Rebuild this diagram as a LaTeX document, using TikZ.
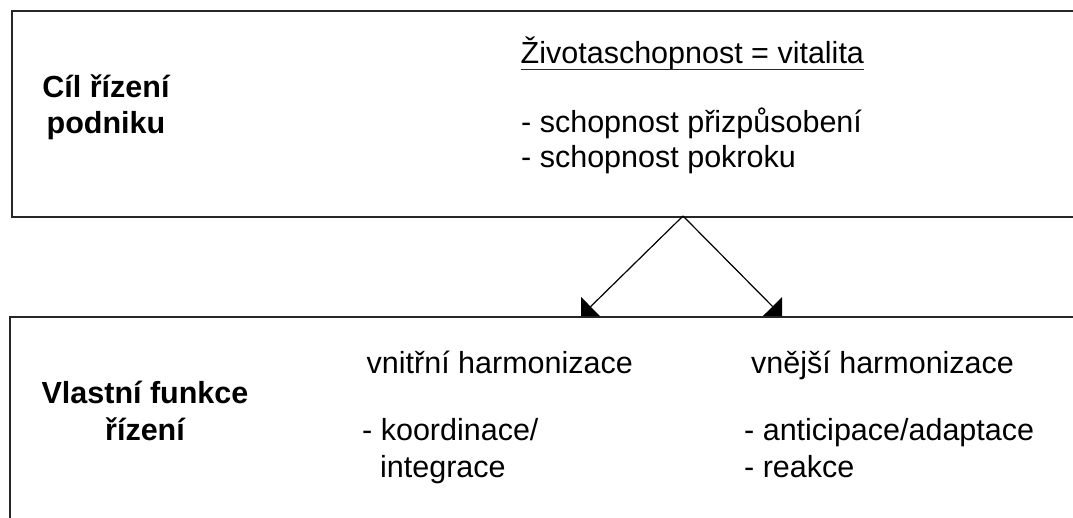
\documentclass[tikz,border=0pt]{standalone}
\usepackage{fontspec}
\setmainfont{Liberation Sans}
\usetikzlibrary{arrows.meta}

\tikzset{
  panel/.style={draw=black!85, line width=2.2pt, fill=white, rectangle,
                anchor=north west, inner sep=0pt},
  txt/.style={inner sep=0pt, anchor=base west, text=black,
              font=\fontsize{30.5}{36}\selectfont},
  head/.style={inner sep=0pt, anchor=base, text=black,
               font=\fontsize{30.5}{36}\selectfont\bfseries},
  link/.style={draw=black, line width=1.2pt,
               -{Triangle[length=13.4pt,width=26.8pt]}},
}

\begin{document}
\begin{tikzpicture}[x=1pt,y=-1pt]
  \useasboundingbox (0,0) rectangle (1073,517);
  \clip (0,0) rectangle (1073,517);
  \fill[white] (0,0) rectangle (1073,517);

  % the two panels run past the right and lower edges
  \node[panel, minimum width=1080pt, minimum height=206pt] (goal) at (11,10) {};
  \node[panel, minimum width=1080pt, minimum height=230pt] (func) at (9,316) {};

  % fork on the lower edge of the upper panel, arrow tips on the lower panel
  \coordinate (fork)  at (683,216);
  \coordinate (tipin) at (581,316);
  \coordinate (tipout) at (782,316);
  \draw[link] (fork) -- (tipin);
  \draw[link] (fork) -- (tipout);

  % upper panel
  \node[head] (goalA) at (106,97)  {Cíl řízení};
  \node[head] (goalB) at (106,133) {podniku};
  \node[txt] (vital) at (520.5,63) {Životaschopnost = vitalita};
  \draw[line width=1.6pt, black!85] ([yshift=-6.5pt]vital.base west) -- ([yshift=-6.5pt]vital.base east);
  \node[txt] (adapt) at (521,132) {- schopnost přizpůsobení};
  \node[txt] (progress) at (521,167) {- schopnost pokroku};

  % lower panel
  \node[head] (funcA) at (145,403) {Vlastní funkce};
  \node[head] (funcB) at (145,440) {řízení};

  \node[txt] (innerA) at (366.5,373) {vnitřní harmonizace};
  \node[txt] (innerB) at (362,440) {- koordinace/};
  \node[txt] (innerC) at (380,477) {integrace};

  \node[txt] (outerA) at (751,373) {vnější harmonizace};
  \node[txt] (outerB) at (744,440) {- anticipace/adaptace};
  \node[txt] (outerC) at (744,477) {- reakce};
\end{tikzpicture}
\end{document}
